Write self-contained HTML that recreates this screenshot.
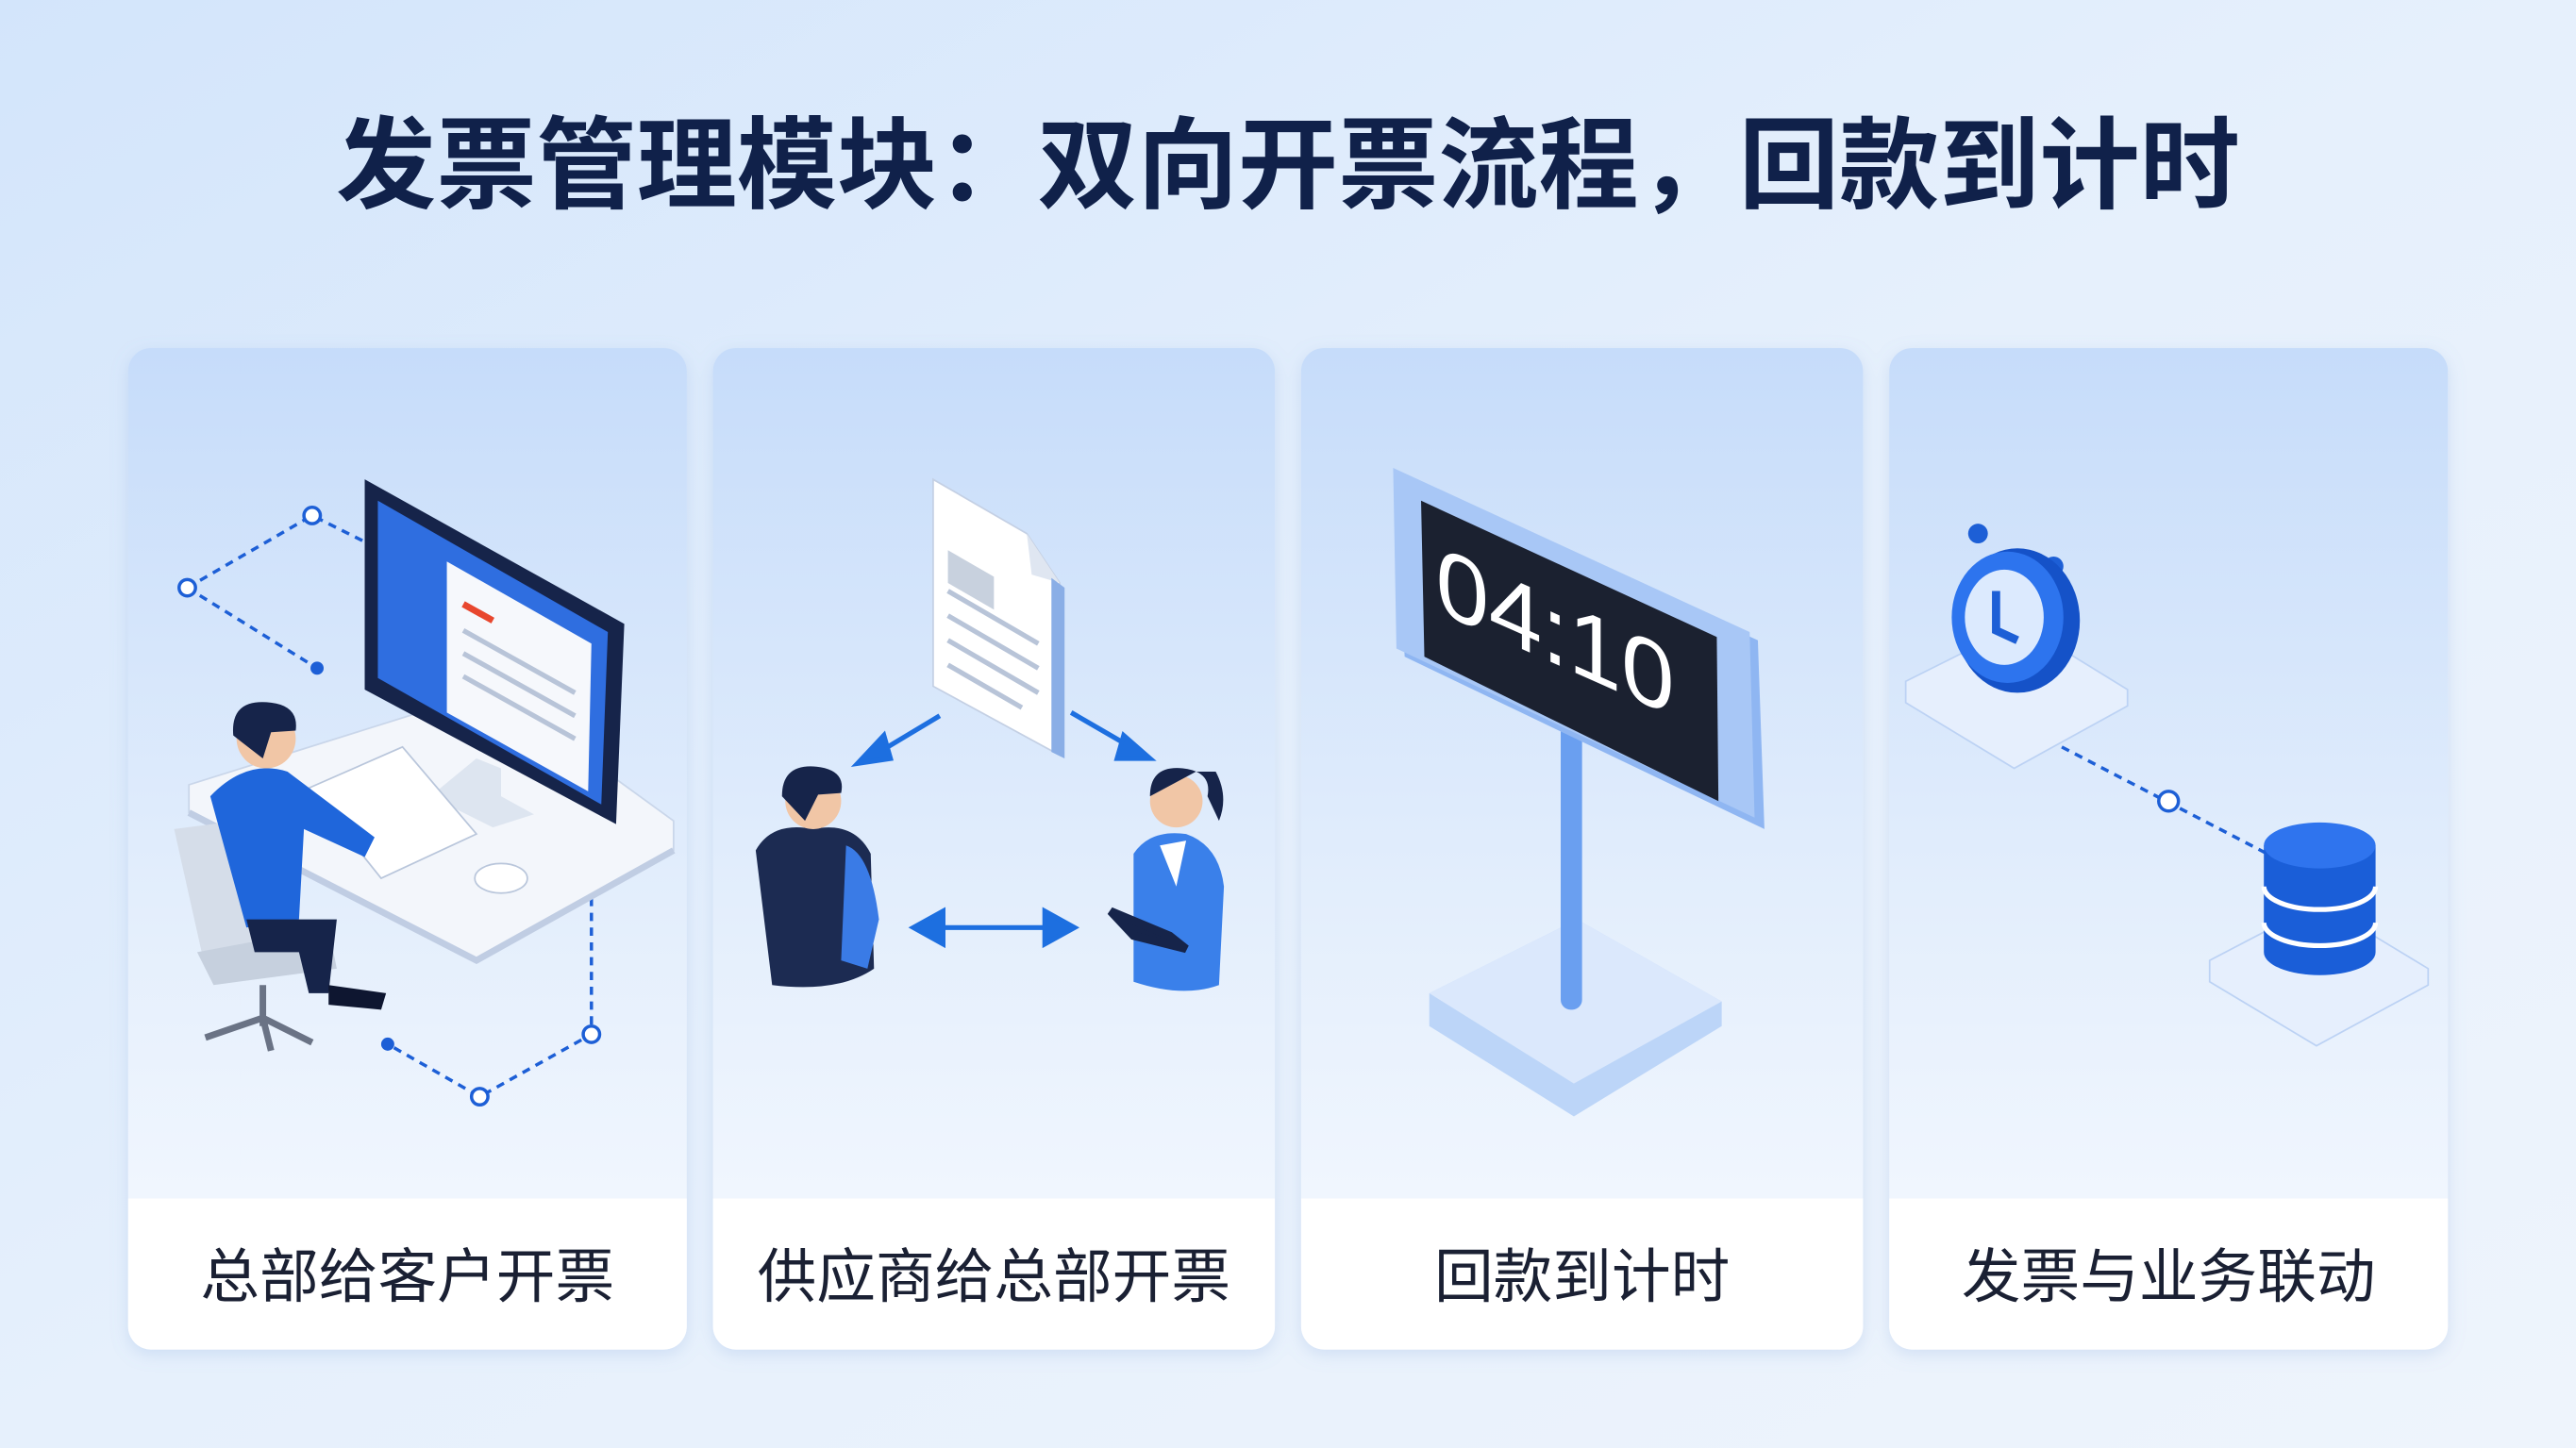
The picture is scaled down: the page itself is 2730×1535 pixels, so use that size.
<!DOCTYPE html>
<html><head><meta charset="utf-8">
<style>
html,body{margin:0;padding:0;width:2730px;height:1535px;overflow:hidden;background:#e3eefb;}
svg{display:block}
text{font-family:"Liberation Sans","Noto Sans CJK SC",sans-serif;}
</style></head><body>
<svg width="2730" height="1535" viewBox="0 0 1568 882" preserveAspectRatio="none" xmlns="http://www.w3.org/2000/svg">
<defs>
<linearGradient id="bg" x1="0" y1="0" x2="1" y2="1">
<stop offset="0" stop-color="#d3e5fb"/><stop offset="0.5" stop-color="#e6f0fc"/><stop offset="1" stop-color="#eef4fc"/></linearGradient>
<linearGradient id="card" x1="0" y1="0" x2="0" y2="1">
<stop offset="0" stop-color="#c6dcfa"/><stop offset="0.55" stop-color="#e3eefc"/><stop offset="1" stop-color="#f7faff"/></linearGradient>
<filter id="sh" x="-10%" y="-10%" width="120%" height="120%"><feDropShadow dx="0" dy="3" stdDeviation="5" flood-color="#7fa6dc" flood-opacity="0.25"/></filter>
</defs>
<rect width="1568" height="882" fill="url(#bg)"/>
<text x="784" y="122" text-anchor="middle" font-size="61" font-weight="bold" fill="#10214a">发票管理模块：双向开票流程，回款到计时</text>

<!-- cards -->
<g filter="url(#sh)">
<rect x="78" y="212" width="340" height="610" rx="14" fill="url(#card)"/>
<rect x="434" y="212" width="342" height="610" rx="14" fill="url(#card)"/>
<rect x="792" y="212" width="342" height="610" rx="14" fill="url(#card)"/>
<rect x="1150" y="212" width="340" height="610" rx="14" fill="url(#card)"/>
</g>
<g fill="#ffffff">
<path d="M78 730 H418 V808 a14 14 0 0 1 -14 14 H92 a14 14 0 0 1 -14 -14 Z"/>
<path d="M434 730 H776 V808 a14 14 0 0 1 -14 14 H448 a14 14 0 0 1 -14 -14 Z"/>
<path d="M792 730 H1134 V808 a14 14 0 0 1 -14 14 H806 a14 14 0 0 1 -14 -14 Z"/>
<path d="M1150 730 H1490 V808 a14 14 0 0 1 -14 14 H1164 a14 14 0 0 1 -14 -14 Z"/>
</g>
<g font-size="36" fill="#1a2033" text-anchor="middle">
<text x="248" y="790">总部给客户开票</text>
<text x="605" y="790">供应商给总部开票</text>
<text x="963" y="790">回款到计时</text>
<text x="1320" y="790">发票与业务联动</text>
</g>

<!-- card 1 -->
<g stroke="#1d5fd6" stroke-width="2" stroke-dasharray="5 4" fill="none">
<path d="M114 358 L190 314 L222 330"/><path d="M114 358 L193 407"/>
<path d="M360 520 L360 630 L292 668 L236 636"/>
</g>
<g fill="#fff" stroke="#1d5fd6" stroke-width="2"><circle cx="114" cy="358" r="5"/><circle cx="190" cy="314" r="5"/><circle cx="360" cy="630" r="5"/><circle cx="292" cy="668" r="5"/></g>
<circle cx="193" cy="407" r="4" fill="#1d5fd6"/><circle cx="236" cy="636" r="4" fill="#1d5fd6"/>
<path d="M115 478 L300 420 L410 500 L410 518 L290 585 L115 495 Z" fill="#f3f6fb" stroke="#c9d6ea"/>
<path d="M115 495 L290 585 L410 518" fill="none" stroke="#c0cde3" stroke-width="4"/>
<path d="M222 292 L380 380 L375 502 L222 420 Z" fill="#16244a"/>
<path d="M230 305 L370 385 L366 490 L230 413 Z" fill="#2f6ee0"/>
<path d="M272 342 L360 392 L358 482 L272 434 Z" fill="#f6f8fc"/>
<path d="M282 368 L300 378" stroke="#e8472e" stroke-width="4"/>
<g stroke="#b8c4d8" stroke-width="3"><path d="M282 384 L350 422"/><path d="M282 398 L350 436"/><path d="M282 412 L350 450"/></g>
<path d="M290 462 L305 468 L305 485 L325 496 L300 504 L262 485 Z" fill="#dde5f0"/>
<path d="M188 480 L245 455 L290 508 L232 535 Z" fill="#ffffff" stroke="#b9c6db"/>
<ellipse cx="305" cy="535" rx="16" ry="9" fill="#fff" stroke="#b9c6db"/>
<path d="M106 505 L145 500 L165 580 L125 590 Z" fill="#d5dde9"/>
<path d="M120 580 L200 565 L205 590 L130 600 Z" fill="#c6d0de"/>
<path d="M160 600 L160 625 M125 632 L160 620 L190 635 M160 620 L165 640" stroke="#6a7385" stroke-width="4" fill="none"/>
<path d="M128 485 Q150 462 175 470 L228 510 L222 522 L185 505 L182 560 L150 565 Z" fill="#1f66db"/>
<path d="M150 560 L205 560 L200 605 L188 605 L182 580 L155 580 Z" fill="#16244a"/>
<path d="M200 600 L235 605 L232 615 L200 612 Z" fill="#0e1630"/>
<circle cx="162" cy="450" r="18" fill="#f1c6a6"/>
<path d="M142 448 Q140 425 165 428 Q182 430 180 445 L165 446 L160 462 Z" fill="#16244a"/>

<!-- card 2 -->
<path d="M568 292 L625 325 L645 355 L645 460 L568 418 Z" fill="#ffffff" stroke="#c4d0e4"/>
<path d="M625 325 L628 350 L645 355" fill="#dfe6f1"/>
<path d="M640 352 L648 358 L648 462 L640 458 Z" fill="#8aaee6"/>
<rect x="577" y="335" width="28" height="20" fill="#c8d1de" transform="skewY(30) translate(0,-333)"/>
<g stroke="#b8c4d8" stroke-width="3"><path d="M577 360 L632 392"/><path d="M577 375 L632 407"/><path d="M577 390 L632 422"/><path d="M577 405 L622 431"/></g>
<g stroke="#1d6fe0" stroke-width="3" fill="#1d6fe0">
<path d="M572 436 L532 460"/><path d="M522 465 L538 448 L542 462 Z"/>
<path d="M652 434 L690 456"/><path d="M700 462 L684 448 L680 462 Z"/>
<path d="M570 565 L640 565"/><path d="M556 565 L574 555 L574 575 Z"/><path d="M654 565 L636 555 L636 575 Z"/>
</g>
<path d="M460 518 Q470 500 495 505 Q520 500 530 520 L532 590 Q510 605 470 600 Z" fill="#1c2b52"/>
<path d="M515 515 Q530 520 535 560 L528 590 L512 585 Z" fill="#3a7be6"/>
<circle cx="495" cy="488" r="17" fill="#f1c6a6"/>
<path d="M476 485 Q476 465 497 467 Q515 469 512 483 L498 484 L490 500 Z" fill="#16244a"/>
<path d="M690 520 Q700 505 722 508 Q742 515 745 540 L742 600 Q720 608 690 598 Z" fill="#3a80ea"/>
<path d="M706 515 L722 512 L716 540 Z" fill="#ffffff"/>
<path d="M676 555 L712 570 L722 578 L690 570 Z" fill="#16244a" stroke="#16244a" stroke-width="5"/>
<circle cx="716" cy="488" r="16" fill="#f1c6a6"/>
<path d="M700 485 Q700 466 720 468 Q738 470 735 485 L742 500 Q748 485 740 470 L728 470" fill="#16244a"/>

<!-- card 3 -->
<path d="M870 605 L960 560 L1048 610 L1048 625 L958 680 L870 625 Z" fill="#bcd5f8"/>
<path d="M870 605 L960 560 L1048 610 L958 660 Z" fill="#dbe8fc"/>
<rect x="950" y="440" width="13" height="175" rx="6" fill="#6a9ff0"/>
<path d="M850 290 L1070 390 L1074 505 L855 400 Z" fill="#8fb6f2"/>
<path d="M848 285 L1065 385 L1068 498 L850 395 Z" fill="#a8c7f6"/>
<path d="M865 305 L1045 388 L1046 488 L867 400 Z" fill="#1b2130"/>
<text x="0" y="0" font-size="58" fill="#ffffff" font-family="Liberation Mono, monospace" transform="translate(874,372) skewY(24)">04:10</text>

<!-- card 4 -->
<path d="M1160 415 L1230 380 L1295 420 L1295 430 L1226 468 L1160 428 Z" fill="#e6effd" stroke="#bcd2f4"/>
<path d="M1345 585 L1412 550 L1478 590 L1478 600 L1410 637 L1345 598 Z" fill="#e6effd" stroke="#bcd2f4"/>
<path d="M1255 455 L1380 520" stroke="#1d5fd6" stroke-width="2" stroke-dasharray="5 4"/>
<circle cx="1320" cy="488" r="6" fill="#fff" stroke="#1d5fd6" stroke-width="2"/>
<circle cx="1204" cy="325" r="6" fill="#1d5fd6"/><circle cx="1250" cy="345" r="6" fill="#1d5fd6"/>
<ellipse cx="1228" cy="378" rx="38" ry="44" fill="#1552c8"/>
<ellipse cx="1222" cy="376" rx="34" ry="40" fill="#2d74ee"/>
<ellipse cx="1220" cy="376" rx="24" ry="29" fill="#dceafe"/>
<path d="M1215 360 L1215 384 L1228 390" stroke="#1d5fd6" stroke-width="5" fill="none"/>
<g>
<path d="M1378 515 L1378 580 A34 14 0 0 0 1446 580 L1446 515 Z" fill="#1a5ed8"/>
<ellipse cx="1412" cy="515" rx="34" ry="14" fill="#2f74ee"/>
<path d="M1378 540 A34 14 0 0 0 1446 540 M1378 562 A34 14 0 0 0 1446 562" stroke="#ffffff" stroke-width="3" fill="none"/>
</g>
</svg>
</body></html>
